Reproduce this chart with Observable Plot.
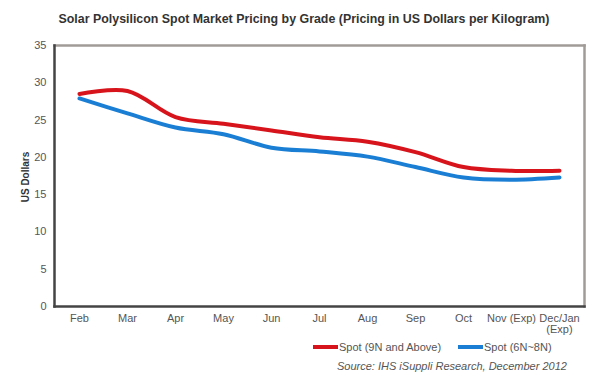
<!DOCTYPE html>
<html><head><meta charset="utf-8">
<script src="https://cdn.jsdelivr.net/npm/d3@7"></script>
<script src="https://cdn.jsdelivr.net/npm/@observablehq/plot@0.6"></script>
<style>
body{margin:0;background:#fff;font-family:"Liberation Sans",Arial,sans-serif;}
#wrap{position:relative;width:600px;height:384px;overflow:hidden;}
#wrap svg{position:absolute;left:0;top:0;}
.title{position:absolute;left:0;width:608px;top:12px;text-align:center;font-weight:bold;font-size:12.4px;color:#333;white-space:nowrap;}
.ylab{position:absolute;left:25px;top:177px;transform:translate(-50%,-50%) rotate(-90deg);font-weight:bold;font-size:10px;color:#333;white-space:nowrap;}
.leg{position:absolute;top:341px;font-size:11px;color:#555;white-space:nowrap;display:flex;align-items:center;}
.sw{display:inline-block;width:25px;height:4px;margin-right:1px;}
.src{position:absolute;left:337px;top:360px;font-size:11px;font-style:italic;color:#555;white-space:nowrap;}
</style></head><body><div id="wrap"></div>
<script>
const months = ["Feb","Mar","Apr","May","Jun","Jul","Aug","Sep","Oct","Nov (Exp)","Dec/Jan\n(Exp)"];
const spot9N = [28.5, 28.9, 25.4, 24.5, 23.6, 22.7, 22.1, 20.7, 18.7, 18.2, 18.2];
const spot6N = [27.9, 25.9, 24.0, 23.1, 21.3, 20.8, 20.1, 18.7, 17.3, 17.0, 17.3];
const seriesNames = ["Spot (9N and Above)", "Spot (6N~8N)"];
const seriesColors = ["#d7141b", "#1a7fd4"];
const yTicks = [0, 5, 10, 15, 20, 25, 30, 35];
const titleText = "Solar Polysilicon Spot Market Pricing by Grade (Pricing in US Dollars per Kilogram)";
const yLabel = "US Dollars";
const sourceText = "Source: IHS iSuppli Research, December 2012";

const data = months.flatMap((m, i) => [
  {month: m, value: spot9N[i], series: seriesNames[0]},
  {month: m, value: spot6N[i], series: seriesNames[1]}
]);

const chart = Plot.plot({
  width: 600, height: 384,
  marginTop: 45, marginBottom: 78, marginLeft: 54, marginRight: 16,
  style: {fontFamily: "'Liberation Sans', Arial, sans-serif", fontSize: "11px", color: "#555", background: "transparent"},
  x: {type: "point", domain: months, padding: 0.5, label: null, tickSize: 0, tickPadding: 8},
  y: {domain: [0, 35], ticks: yTicks, label: null, tickSize: 0, tickPadding: 8},
  color: {domain: seriesNames, range: seriesColors},
  marks: [
    Plot.frame({anchor: "top", stroke: "#a19b98", strokeWidth: 2.5}),
    Plot.frame({anchor: "right", stroke: "#a19b98", strokeWidth: 2.5}),
    Plot.frame({anchor: "left", stroke: "#444", strokeWidth: 2.5}),
    Plot.frame({anchor: "bottom", stroke: "#444", strokeWidth: 2.5}),
    Plot.line(data, {x: "month", y: "value", z: "series", stroke: "series", strokeWidth: 4, curve: "catmull-rom"})
  ]
});

const wrap = document.getElementById("wrap");
wrap.appendChild(chart);
const t = document.createElement("div"); t.className = "title"; t.textContent = titleText; wrap.appendChild(t);
const yl = document.createElement("div"); yl.className = "ylab"; yl.textContent = yLabel; wrap.appendChild(yl);
const legLefts = [313, 458];
seriesNames.forEach((s, i) => {
  const d = document.createElement("div"); d.className = "leg"; d.style.left = legLefts[i] + "px";
  const sw = document.createElement("span"); sw.className = "sw"; sw.style.background = seriesColors[i];
  d.appendChild(sw); d.appendChild(document.createTextNode(s)); wrap.appendChild(d);
});
const src = document.createElement("div"); src.className = "src"; src.textContent = sourceText; wrap.appendChild(src);
</script></body></html>
